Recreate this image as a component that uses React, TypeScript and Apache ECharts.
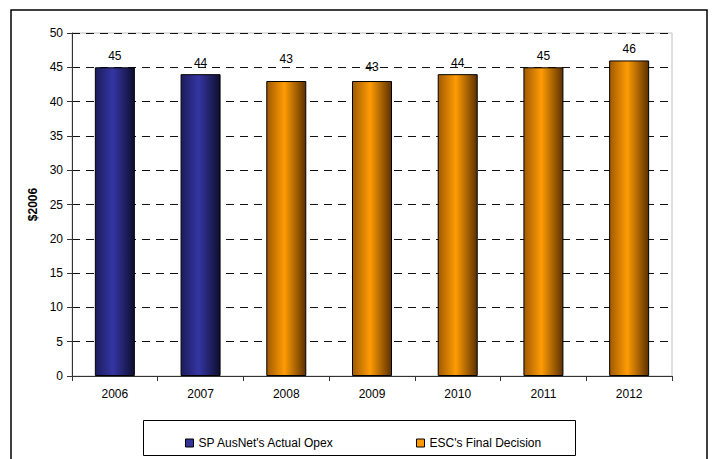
import React, { useEffect, useRef } from "react";
import * as echarts from "echarts";

const categories = ["2006", "2007", "2008", "2009", "2010", "2011", "2012"];
const actualOpex = [45, 44, null, null, null, null, null];
const escDecision = [null, null, 43, 43, 44, 45, 46];
const yTicks = { min: 0, max: 50, interval: 5 };

const blueGrad = new echarts.graphic.LinearGradient(0, 0, 1, 0, [
  { offset: 0, color: "#1c1c5c" },
  { offset: 0.45, color: "#3535a3" },
  { offset: 1, color: "#0e0e30" },
]);
const orangeGrad = new echarts.graphic.LinearGradient(0, 0, 1, 0, [
  { offset: 0, color: "#a05a00" },
  { offset: 0.45, color: "#ff9c05" },
  { offset: 1, color: "#5c3000" },
]);

const labelExtra: Record<number, number> = { 2: -11, 3: -3 };

export default function App() {
  const ref = useRef<HTMLDivElement>(null);
  useEffect(() => {
    if (!ref.current) return;
    const chart = echarts.init(ref.current, null, { renderer: "svg" });
    const toData = (arr: (number | null)[]) =>
      arr.map((v, i) =>
        v == null
          ? "-"
          : { value: v, label: { offset: [0, labelExtra[i] || 0] } }
      );
    const font = "Arial, 'Liberation Sans', sans-serif";
    chart.setOption({
      animation: false,
      backgroundColor: "#ffffff",
      textStyle: { fontFamily: font },
      grid: {
        left: 72,
        right: 40,
        top: 33,
        bottom: 83,
        show: true,
        borderColor: "#c0c0c0",
        borderWidth: 1,
      },
      graphic: [
        {
          type: "rect",
          shape: { x: 11, y: 10, width: 696, height: 460 },
          style: { fill: "none", stroke: "#000", lineWidth: 1.5 },
          silent: true,
        },
        {
          type: "rect",
          shape: { x: 143.5, y: 420.5, width: 432, height: 35 },
          style: { fill: "none", stroke: "#000", lineWidth: 1 },
          silent: true,
        },
      ],
      legend: [
        {
          data: [
            { name: "SP AusNet's Actual Opex", itemStyle: { color: "#333399" } },
          ],
          left: 180,
          top: 432,
          itemWidth: 8,
          itemHeight: 8,
          itemGap: 5,
          icon: "rect",
          itemStyle: { borderColor: "#000", borderWidth: 1 },
          textStyle: { fontSize: 12, color: "#000", fontFamily: font },
        },
        {
          data: [
            { name: "ESC's Final Decision", itemStyle: { color: "#ff9900" } },
          ],
          left: 411,
          top: 432,
          itemWidth: 8,
          itemHeight: 8,
          itemGap: 5,
          icon: "rect",
          itemStyle: { borderColor: "#000", borderWidth: 1 },
          textStyle: { fontSize: 12, color: "#000", fontFamily: font },
        },
      ],
      xAxis: {
        type: "category",
        data: categories,
        axisLine: { lineStyle: { color: "#333", width: 1 } },
        axisTick: { show: true, length: 5, lineStyle: { color: "#333" } },
        axisLabel: { color: "#000", fontSize: 12, margin: 12, fontFamily: font },
        splitLine: { show: false },
      },
      yAxis: {
        type: "value",
        min: yTicks.min,
        max: yTicks.max,
        interval: yTicks.interval,
        name: "$2006",
        nameLocation: "middle",
        nameGap: 33,
        nameTextStyle: { fontWeight: "bold", fontSize: 12, color: "#000", fontFamily: font },
        axisLine: { show: true, lineStyle: { color: "#333", width: 1 } },
        axisTick: { show: true, length: 5, lineStyle: { color: "#333" } },
        axisLabel: { color: "#000", fontSize: 12, margin: 9, fontFamily: font },
        splitLine: {
          show: true,
          lineStyle: { color: "#111", type: [8, 6], width: 1 },
        },
      },
      series: [
        {
          name: "SP AusNet's Actual Opex",
          type: "bar",
          data: toData(actualOpex),
          barWidth: 40,
          barGap: "-100%",
          itemStyle: { color: blueGrad, borderColor: "#000", borderWidth: 1 },
          label: { show: true, position: "top", distance: 5, color: "#000", fontSize: 12, fontFamily: font },
        },
        {
          name: "ESC's Final Decision",
          type: "bar",
          data: toData(escDecision),
          barWidth: 40,
          barGap: "-100%",
          itemStyle: { color: orangeGrad, borderColor: "#000", borderWidth: 1 },
          label: { show: true, position: "top", distance: 5, color: "#000", fontSize: 12, fontFamily: font },
        },
      ],
    });
    return () => chart.dispose();
  }, []);
  return (
    <div
      ref={ref}
      style={{ position: "fixed", left: 0, top: 0, width: 712, height: 459 }}
    />
  );
}
